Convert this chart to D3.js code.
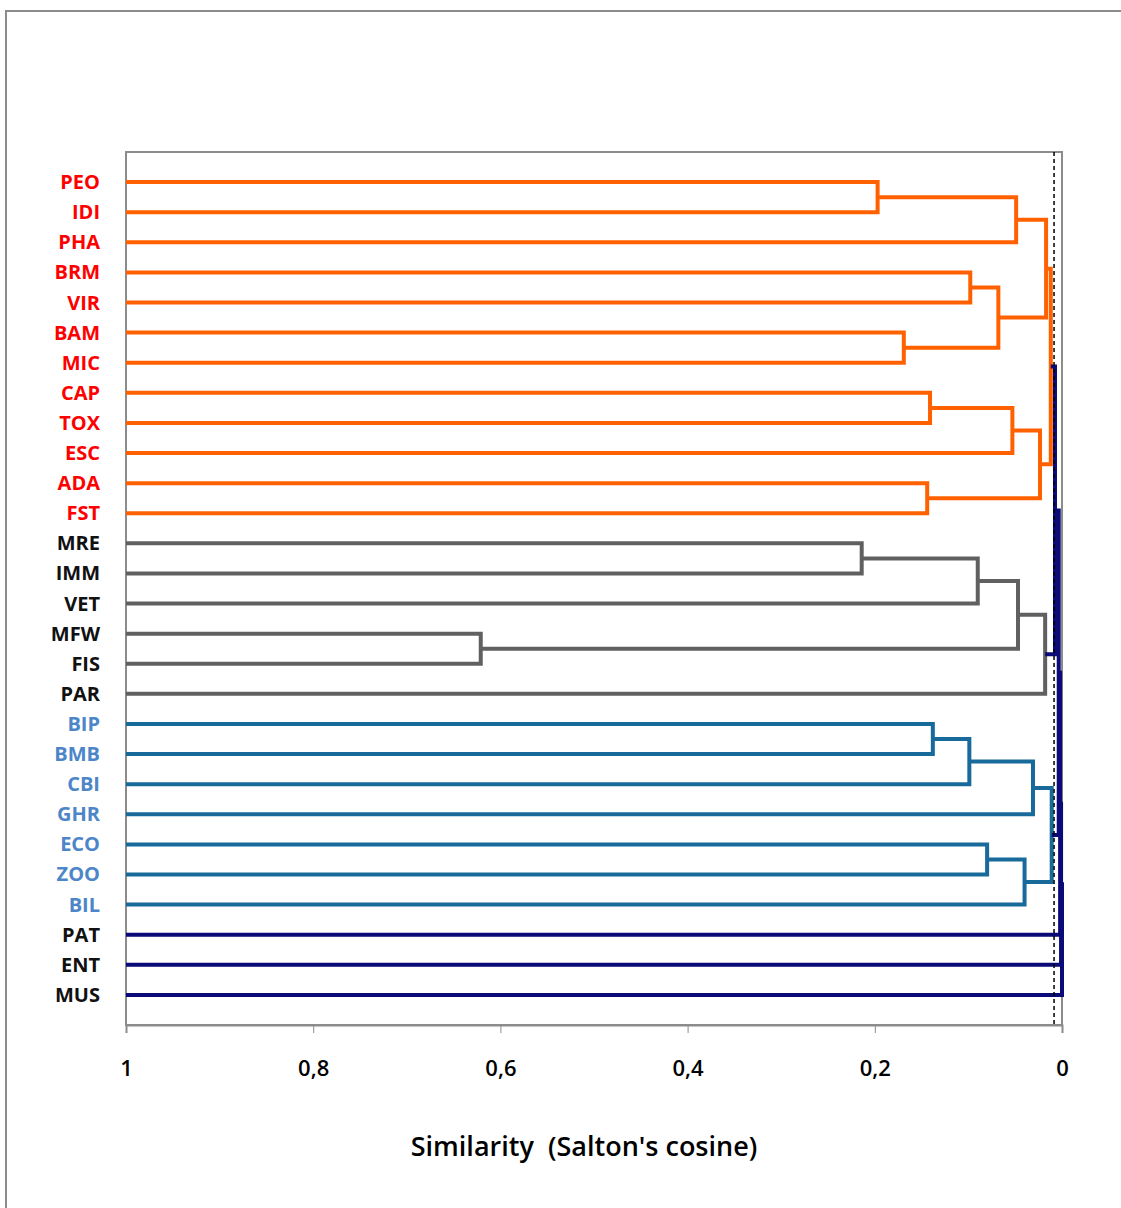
<!DOCTYPE html>
<html lang="en">
<head>
    <meta charset="UTF-8">
    <title>Dendrogram - Salton's cosine</title>
    <style>
        body { margin: 0; background: #fff; }
        .leaf-label { font-family: "Open Sans", sans-serif; font-weight: 700; font-size: 20px; }
        .axis text { font-family: "Open Sans", sans-serif; font-weight: 600; font-size: 22px; fill: #000; }
        .axis-title { font-family: "Open Sans", sans-serif; font-weight: 600; font-size: 27px; }
    </style>
</head>
<body>
    <svg width="1121" height="1208"></svg>

    <script src="https://d3js.org/d3.v7.min.js"></script>
    <script>
        // leaves, top to bottom
        const leaves = ["PEO", "IDI", "PHA", "BRM", "VIR", "BAM", "MIC", "CAP", "TOX", "ESC", "ADA", "FST",
                        "MRE", "IMM", "VET", "MFW", "FIS", "PAR",
                        "BIP", "BMB", "CBI", "GHR", "ECO", "ZOO", "BIL",
                        "PAT", "ENT", "MUS"];
        const leafGroup = ["o", "o", "o", "o", "o", "o", "o", "o", "o", "o", "o", "o",
                           "g", "g", "g", "g", "g", "g",
                           "b", "b", "b", "b", "b", "b", "b",
                           "n", "n", "n"];

        // merges: index < 28 is a leaf, otherwise merge (index - 28)
        const mergeLeft  = [0, 28, 3, 5, 30, 29, 7, 34, 10, 35, 33, 12, 39, 15, 40, 42, 38, 18, 45, 46, 22, 48, 47, 44, 51, 52, 53];
        const mergeRight = [1, 2, 4, 6, 31, 32, 8, 9, 11, 36, 37, 13, 14, 16, 41, 17, 43, 19, 20, 21, 23, 24, 49, 50, 25, 26, 27];
        const mergeSim   = [0.197, 0.049, 0.098, 0.169, 0.068, 0.017, 0.141, 0.053, 0.144, 0.0235, 0.012,
                            0.214, 0.090, 0.621, 0.047, 0.018, 0.0075,
                            0.138, 0.099, 0.031, 0.080, 0.040, 0.011,
                            0.0035, 0.002, 0.001, 0.0];
        const mergeGroup = ["o", "o", "o", "o", "o", "o", "o", "o", "o", "o", "o",
                            "g", "g", "g", "g", "g", "n",
                            "b", "b", "b", "b", "b", "b",
                            "n", "n", "n", "n"];

        const xTicks = [1, 0.8, 0.6, 0.4, 0.2, 0];
        const cutOff = 0.0085;

        const lineColor = { o: "#ff6100", g: "#606060", b: "#186a9a", n: "#0a0a78" };
        const labelColor = { o: "#ff0000", g: "#111", b: "#4d86c8", n: "#111" };

        const svg = d3.select("svg");
        const plot = { left: 126, right: 1062, top: 152, bottom: 1025 };

        const x = d3.scaleLinear().domain([1, 0]).range([plot.left, plot.right]);
        const y = d3.scalePoint().domain(leaves).range([plot.top, plot.bottom]).padding(1.0);

        // outer frame
        svg.append("path")
            .attr("d", "M6,1208 V11 H1121")
            .attr("fill", "none")
            .attr("stroke", "#8c8c8c")
            .attr("stroke-width", 2);

        // plot frame
        svg.append("rect")
            .attr("x", plot.left).attr("y", plot.top)
            .attr("width", plot.right - plot.left).attr("height", plot.bottom - plot.top)
            .attr("fill", "none")
            .attr("stroke", "#8c8c8c")
            .attr("stroke-width", 2);

        // x axis
        const axis = svg.append("g")
            .attr("class", "axis")
            .attr("transform", `translate(0,${plot.bottom})`)
            .call(d3.axisBottom(x).tickValues(xTicks).tickSize(8).tickPadding(27)
                .tickFormat(d => String(d).replace(".", ",")));
        axis.select(".domain").attr("stroke", "#8c8c8c").attr("stroke-width", 2);
        axis.selectAll(".tick line").attr("stroke", "#8c8c8c").attr("stroke-width", 1);

        // node positions
        const nodeX = [], nodeY = [];
        leaves.forEach((name, i) => { nodeX[i] = x(1); nodeY[i] = y(name); });
        mergeSim.forEach((s, k) => {
            const id = leaves.length + k;
            nodeX[id] = x(s);
            nodeY[id] = (nodeY[mergeLeft[k]] + nodeY[mergeRight[k]]) / 2;
        });

        // dendrogram links
        svg.append("g")
            .selectAll("path")
            .data(mergeSim.map((s, k) => k))
            .join("path")
            .attr("d", k => {
                const a = mergeLeft[k], b = mergeRight[k], mx = x(mergeSim[k]);
                return `M${nodeX[a]},${nodeY[a]} H${mx} V${nodeY[b]} H${nodeX[b]}`;
            })
            .attr("fill", "none")
            .attr("stroke", k => lineColor[mergeGroup[k]])
            .attr("stroke-width", 4);

        // cut-off line
        svg.append("line")
            .attr("x1", x(cutOff)).attr("x2", x(cutOff))
            .attr("y1", plot.top).attr("y2", plot.bottom)
            .attr("stroke", "#000")
            .attr("stroke-width", 1.5)
            .attr("stroke-dasharray", "4,3");

        // leaf labels
        svg.append("g")
            .selectAll("text")
            .data(leaves)
            .join("text")
            .attr("class", "leaf-label")
            .attr("x", 100)
            .attr("y", d => y(d))
            .attr("dy", "0.35em")
            .attr("text-anchor", "end")
            .attr("fill", (d, i) => labelColor[leafGroup[i]])
            .text(d => d);

        svg.append("text")
            .attr("class", "axis-title")
            .attr("x", 584)
            .attr("y", 1156)
            .attr("text-anchor", "middle")
            .attr("xml:space", "preserve")
            .text("Similarity  (Salton's cosine)");
    </script>
</body>
</html>
